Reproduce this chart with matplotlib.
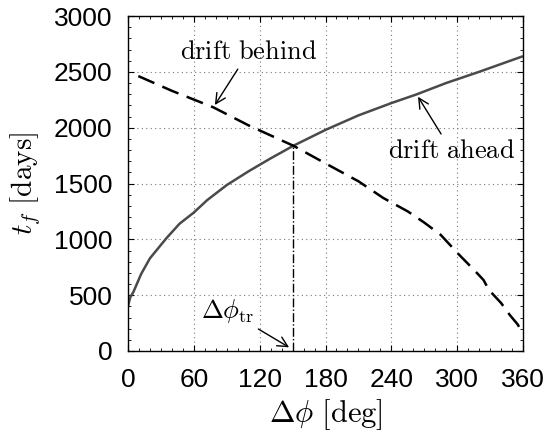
import matplotlib
matplotlib.use("Agg")
import matplotlib.pyplot as plt
from matplotlib.ticker import MultipleLocator

plt.rcParams['font.family'] = ['Liberation Sans', 'DejaVu Sans']
plt.rcParams['mathtext.fontset'] = 'cm'

# Transfer time for the "drift ahead" branch
ahead_phi = [0, 2, 5, 12, 20, 35, 47, 60, 72, 90, 110, 130, 150.7, 180, 210, 240, 263, 290, 320, 340, 360]
ahead_tf = [400, 480, 530, 690, 830, 1010, 1140, 1240, 1350, 1486, 1610, 1725, 1838, 1980, 2110, 2220, 2298, 2400, 2500, 2570, 2640]

# Transfer time for the "drift behind" branch
behind_phi = [9.4, 40, 77.8, 110, 150.7, 180, 210, 232.7, 255, 270, 285, 301, 315, 324, 329, 340, 348, 355, 359]
behind_tf = [2462, 2330, 2182, 2020, 1838, 1680, 1520, 1370, 1250, 1150, 1040, 870, 730, 636, 546, 430, 322, 240, 173]

# Transition phase angle
phi_tr = 150.7
tf_tr = 1838

xticks = [0, 60, 120, 180, 240, 300, 360]
yticks = [0, 500, 1000, 1500, 2000, 2500, 3000]

fig = plt.figure(figsize=(5.46, 4.32), dpi=100)
ax = fig.add_axes([128 / 546, 1 - 351 / 432, 395 / 546, 335 / 432])

ax.plot(ahead_phi, ahead_tf, color='#4a4a4a', lw=1.8, solid_capstyle='butt')
ax.plot(behind_phi, behind_tf, color='black', lw=1.8, linestyle=(0, (7, 3.5)))
ax.plot([phi_tr, phi_tr], [0, tf_tr], color='black', lw=1.0, linestyle='-.')

ax.set_xlim(0, 360)
ax.set_ylim(0, 3000)
ax.set_xticks(xticks)
ax.set_yticks(yticks)
ax.xaxis.set_minor_locator(MultipleLocator(10))
ax.yaxis.set_minor_locator(MultipleLocator(100))
ax.tick_params(which='both', direction='in', top=True, right=True, labelsize=19)
ax.tick_params(which='major', length=4, width=0.8)
ax.tick_params(which='minor', length=2, width=0.6)
ax.tick_params(axis='x', pad=12)
ax.tick_params(axis='y', pad=11)
ax.grid(True, which='major', linestyle=(0, (1, 3)), color='#777777', lw=0.8)
for s in ax.spines.values():
    s.set_linewidth(1.0)

ax.set_xlabel(r'$\Delta\phi\ [\mathrm{deg}]$', fontsize=22, labelpad=4)
ax.set_ylabel(r'$t_f\ [\mathrm{days}]$', fontsize=21, labelpad=8)

arrow = dict(arrowstyle='->', color='black', lw=1.0, mutation_scale=18)
ax.annotate(r'$\mathrm{drift\ behind}$', xy=(77.8, 2182), xytext=(110, 2677),
            fontsize=19, ha='center', va='center', arrowprops=arrow)
ax.annotate(r'$\mathrm{drift\ ahead}$', xy=(263, 2298), xytext=(295, 1790),
            fontsize=19, ha='center', va='center', arrowprops=arrow)
ax.annotate(r'$\Delta\phi_{\mathrm{tr}}$', xy=(149, 20), xytext=(91, 360),
            fontsize=19, ha='center', va='center', arrowprops=arrow)

fig.savefig('out.png', dpi=100)
